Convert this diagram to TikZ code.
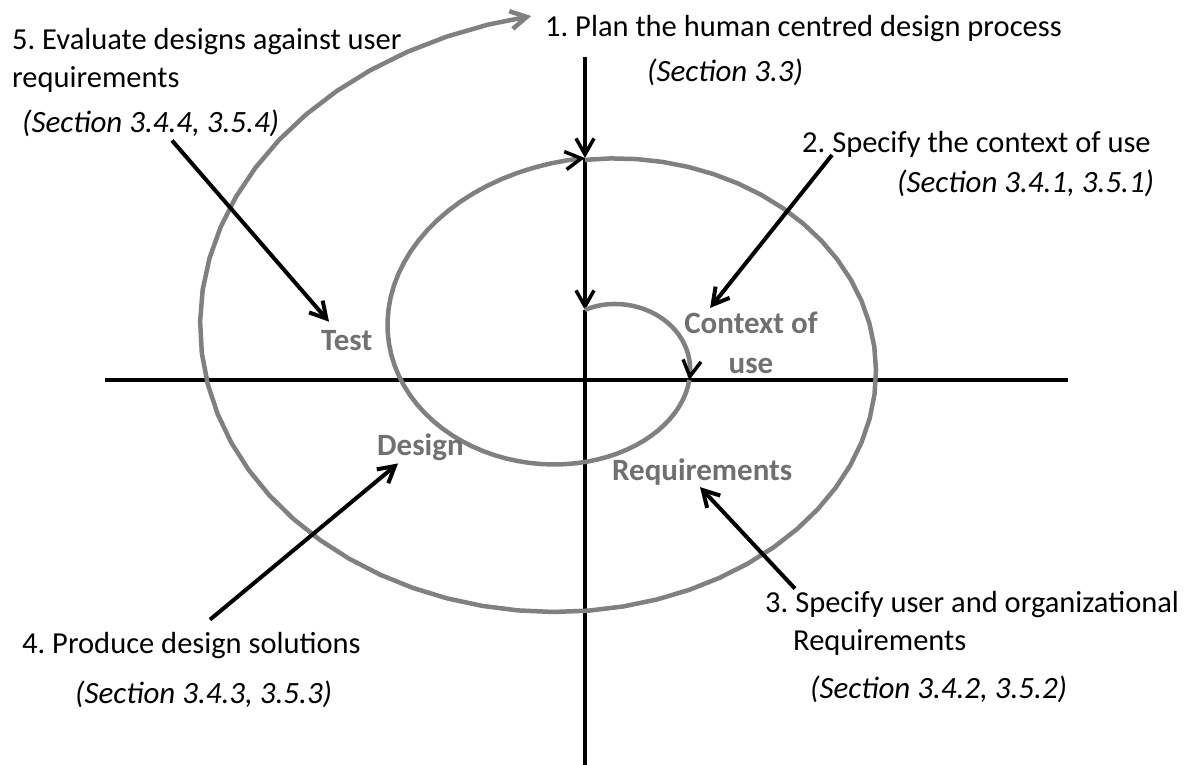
\documentclass[tikz,border=0pt]{standalone}
\usepackage{fontspec}
\setmainfont{Carlito}
\usetikzlibrary{arrows.meta,positioning}

\definecolor{spiralgray}{RGB}{128,128,128}
\definecolor{phasegray}{RGB}{112,112,112}

\begin{document}
\frenchspacing
\begin{tikzpicture}[x=1pt,y=-1pt,
  >={Straight Barb[length=16pt,width=18pt]},
  axis/.style={line width=3.5pt},
  spiral/.style={spiralgray,line width=4.5pt,samples=60},
  pointer/.style={line width=4pt,->},
  caption/.style={anchor=base west,inner sep=0pt,font=\fontsize{30.5}{36}\selectfont},
  secref/.style={anchor=base west,inner sep=0pt,font=\fontsize{31}{36}\selectfont\itshape},
  phase/.style={phasegray,inner sep=0pt,font=\fontsize{31}{40}\selectfont\bfseries}]
  \useasboundingbox (0,0) rectangle (1186,765);

  % axes
  \coordinate (top) at (585,57);
  \coordinate (outer) at (585,158);
  \coordinate (inner) at (585,310);
  \coordinate (bottom) at (585,765);
  \draw[axis] (105,380) -- (1068,380);
  \draw[axis,->] (top) -- (outer);
  \draw[axis,->] (outer) -- (inner);
  \draw[axis] (inner) -- (bottom);

  % spiral
  \draw[spiral,-{Straight Barb[black,length=16pt,width=18pt,line width=3.5pt]}]
       plot[domain=-1.5708:0.385] ({585+(101+30*\x)*cos(\x r)},{348+(76+24.2*\x)*sin(\x r)});
  \draw[spiral,-{Straight Barb[black,length=16pt,width=18pt,line width=3.5pt]}]
       plot[domain=0.385:4.7124] ({585+(101+30*\x)*cos(\x r)},{348+(76+24.2*\x)*sin(\x r)});
  \draw[spiral,->]
       plot[domain=4.7124:10.87] ({585+(101+30*\x)*cos(\x r)},{348+(76+23.8*\x)*sin(\x r)});

  % phases
  \node[phase,anchor=base west] (test) at (321,350) {Test};
  \node[phase,align=center] (context) at (751,343) {Context of\\use};
  \node[phase,anchor=base west] (design) at (377,455) {Design};
  \node[phase,anchor=base west] (requirements) at (612,480) {Requirements};

  % activities
  \node[caption] (plan) at (545,37) {1. Plan the human centred design process};
  \node[secref] (plansec) at (647,82) {(Section 3.3)};
  \node[caption] (ctxlab) at (802,153) {2. Specify the context of use};
  \node[secref] (ctxsec) at (897,193) {(Section 3.4.1, 3.5.1)};
  \node[caption] (reqlab) at (765,612) {3. Specify user and organizational};
  \node[caption] (reqlab2) at (793,650) {Requirements};
  \node[secref] (reqsec) at (810,698) {(Section 3.4.2, 3.5.2)};
  \node[caption] (deslab) at (22,653) {4. Produce design solutions};
  \node[secref] (dessec) at (75,703) {(Section 3.4.3, 3.5.3)};
  \node[caption] (evallab) at (12,50) {5. Evaluate designs against user};
  \node[caption] (evallab2) at (12,88) {requirements};
  \node[secref] (evalsec) at (22,132) {(Section 3.4.4, 3.5.4)};

  % pointers
  \coordinate (e2) at ([xshift=30pt,yshift=-2pt]ctxlab.base west);
  \coordinate (e3) at ([xshift=30pt,yshift=2pt]reqlab.north west);
  \coordinate (e4) at ([xshift=188pt,yshift=12pt]deslab.north west);
  \coordinate (e5) at ([xshift=150pt,yshift=-4pt]evalsec.south west);
  \draw[pointer] (e2) -- ([xshift=26pt,yshift=4pt]context.north west);
  \draw[pointer] (e3) -- ([xshift=88pt,yshift=-2pt]requirements.south west);
  \draw[pointer] (e4) -- ([xshift=21pt,yshift=-3pt]design.south west);
  \draw[pointer] (e5) -- ([xshift=8pt,yshift=8pt]test.north west);
\end{tikzpicture}
\end{document}
